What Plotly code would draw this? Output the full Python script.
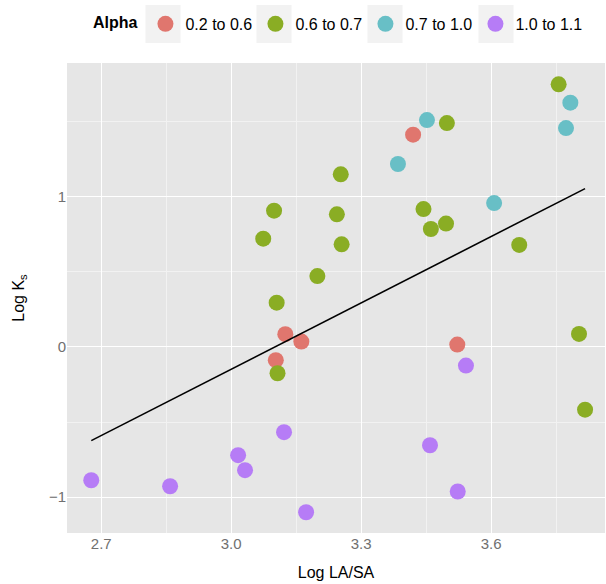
import numpy as np
import plotly.graph_objects as go

# ---- data ----
groups = ["0.2 to 0.6", "0.6 to 0.7", "0.7 to 1.0", "1.0 to 1.1"]

x_a = [3.420, 3.522, 3.125, 3.162, 3.103]
y_a = [1.413, 0.016, 0.085, 0.036, -0.088]

x_b = [3.099, 3.074, 3.244, 3.255, 3.199, 3.105, 3.107, 3.253,
       3.756, 3.498, 3.444, 3.461, 3.496, 3.665, 3.803, 3.817]
y_b = [0.907, 0.721, 0.883, 0.683, 0.472, 0.295, -0.175, 1.149,
       1.748, 1.490, 0.918, 0.785, 0.821, 0.679, 0.087, -0.417]

x_c = [3.452, 3.385, 3.783, 3.773, 3.607]
y_c = [1.510, 1.218, 1.626, 1.457, 0.958]

x_d = [2.677, 2.859, 3.016, 3.032, 3.122, 3.173, 3.459, 3.523, 3.542]
y_d = [-0.887, -0.927, -0.720, -0.820, -0.567, -1.100, -0.654, -0.962, -0.124]

# fitted line
fit_intercept = -4.561
fit_slope = 1.471

x_ticks = [2.7, 3.0, 3.3, 3.6]
y_ticks = [-1, 0, 1]

colors = ["#E0766E", "#8AAD24", "#68BFC6", "#B67CF6"]
xs = [x_a, x_b, x_c, x_d]
ys = [y_a, y_b, y_c, y_d]

FONT = "Liberation Sans, Arial, sans-serif"
W, H = 606, 584
ML, MR, MT, MB = 67, 1, 63, 51

fig = go.Figure()
for name, xv, yv, col in zip(groups, xs, ys, colors):
    fig.add_trace(go.Scatter(
        x=xv, y=yv, mode="markers", name=name,
        marker=dict(color=col, size=16, line=dict(width=0)),
    ))

all_x = np.concatenate([np.array(v) for v in xs])
lx = np.array([all_x.min(), all_x.max()])
fig.add_trace(go.Scatter(
    x=lx, y=fit_intercept + fit_slope * lx, mode="lines",
    line=dict(color="black", width=1.6), showlegend=False, hoverinfo="skip",
))

axis_common = dict(
    showgrid=True, gridcolor="white", gridwidth=1.2,
    zeroline=False, showline=False, ticks="", automargin=False,
    tickfont=dict(family=FONT, size=15, color="#707070"),
    minor=dict(showgrid=True, gridcolor="#F2F2F2", gridwidth=0.6),
)

# legend key background boxes (ggplot-style), in paper coordinates
pw, ph = W - ML - MR, H - MT - MB
key_px = [163 + 111 * i for i in range(len(groups))]
shapes = []
for cx in key_px:
    shapes.append(dict(
        type="rect", xref="paper", yref="paper", layer="below",
        x0=(cx - 17.5 - ML) / pw, x1=(cx + 17.5 - ML) / pw,
        y0=(H - MB - 43) / ph, y1=(H - MB - 5) / ph,
        fillcolor="#F2F2F2", line=dict(width=0),
    ))

fig.update_layout(
    width=W, height=H,
    margin=dict(l=ML, r=MR, t=MT, b=MB, autoexpand=False),
    paper_bgcolor="white", plot_bgcolor="#E6E6E6",
    font=dict(family=FONT, color="black"),
    shapes=shapes,
    xaxis=dict(
        range=[2.621, 3.863], tickvals=x_ticks, ticktext=[f"{v:.1f}" for v in x_ticks],
        title=dict(text="Log LA/SA", font=dict(size=16, family=FONT, color="black"), standoff=15),
        **axis_common,
    ),
    yaxis=dict(
        range=[-1.238, 1.890], tickvals=y_ticks,
        title=dict(text="Log K<sub>s</sub>", font=dict(size=16, family=FONT, color="black"), standoff=20),
        **axis_common,
    ),
    legend=dict(
        orientation="h", x=0.150, xanchor="left", y=0.959, yanchor="middle",
        yref="container", xref="container",
        title=dict(text="<b>Alpha</b>", font=dict(size=16, family=FONT, color="black")),
        font=dict(size=16, family=FONT, color="black"),
        entrywidth=65, entrywidthmode="pixels",
        bgcolor="rgba(0,0,0,0)",
    ),
)
fig.update_xaxes(minor=dict(tickvals=[2.85, 3.15, 3.45, 3.75]))
fig.update_yaxes(minor=dict(tickvals=[-0.5, 0.5, 1.5]))

fig.write_html("out.html", config={"displayModeBar": False},
               post_script="document.body.style.margin='0px';document.body.style.overflow='hidden';")
